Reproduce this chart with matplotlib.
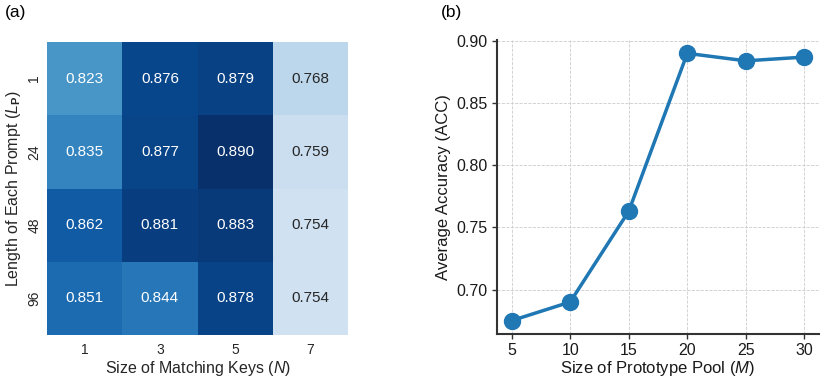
import matplotlib
matplotlib.use("Agg")
import matplotlib.pyplot as plt
import numpy as np

plt.rcParams['font.family'] = ['Liberation Sans', 'DejaVu Sans']
plt.rcParams['mathtext.fontset'] = 'custom'
plt.rcParams['mathtext.rm'] = 'Liberation Sans'
plt.rcParams['mathtext.it'] = 'Liberation Sans:italic'
plt.rcParams['mathtext.bf'] = 'Liberation Sans:bold'

# Heatmap data
key_sizes = ["1", "3", "5", "7"]
prompt_lengths = ["1", "24", "48", "96"]
acc_grid = [
    [0.823, 0.876, 0.879, 0.768],
    [0.835, 0.877, 0.890, 0.759],
    [0.862, 0.881, 0.883, 0.754],
    [0.851, 0.844, 0.878, 0.754],
]

# Line data
pool_sizes = [5, 10, 15, 20, 25, 30]
pool_acc = [0.675, 0.690, 0.763, 0.890, 0.884, 0.887]

fig = plt.figure(figsize=(8.3, 3.78), dpi=100)

# (a) heatmap
ax1 = fig.add_axes([47/830, 1-335/378, 301/830, 293/378])
data = np.array(acc_grid)
vmin, vmax = 0.72, 0.89
cmap = plt.get_cmap('Blues')
ax1.pcolormesh(data, cmap=cmap, vmin=vmin, vmax=vmax)
ax1.set_xlim(0, data.shape[1])
ax1.set_ylim(data.shape[0], 0)
for i in range(data.shape[0]):
    for j in range(data.shape[1]):
        v = data[i, j]
        t = (v - vmin) / (vmax - vmin)
        col = 'white' if t > 0.45 else '#262626'
        ax1.text(j + 0.5, i + 0.5, f"{v:.3f}", ha='center', va='center',
                 fontsize=11, color=col)
ax1.set_xticks(np.arange(len(key_sizes)) + 0.5)
ax1.set_xticklabels(key_sizes, fontsize=10, color='#262626')
ax1.set_yticks(np.arange(len(prompt_lengths)) + 0.5)
ax1.set_yticklabels(prompt_lengths, fontsize=10, rotation=90, va='center', color='#262626')
ax1.tick_params(axis='x', length=0, pad=6)
ax1.tick_params(axis='y', length=0, pad=4)
for s in ax1.spines.values():
    s.set_visible(False)
ax1.set_xlabel(r"Size of Matching Keys ($\mathit{N}$)", fontsize=11.5, color='#262626', labelpad=1)
ax1.set_ylabel(r"Length of Each Prompt ($\mathit{L}_{\mathbf{P}}$)", fontsize=11.5, color='#262626', labelpad=3)
fig.text(5/830, 1-13/378, "(a)", fontsize=12.5, va='center', ha='left')

# (b) line plot
ax2 = fig.add_axes([497/830, 1-334/378, 322/830, 294/378])
ax2.plot(pool_sizes, pool_acc, '-o', color='#1f77b4', linewidth=2.5, markersize=11.5)
ax2.set_xticks(pool_sizes)
ax2.set_yticks([0.70, 0.75, 0.80, 0.85, 0.90])
ax2.set_yticklabels([f"{v:.2f}" for v in [0.70, 0.75, 0.80, 0.85, 0.90]])
ax2.tick_params(labelsize=11.5, length=3.5, width=1, color='#333333', labelcolor='#1a1a1a', pad=3)
ax2.grid(True, linestyle='--', linewidth=0.6, color='#cccccc')
ax2.set_axisbelow(True)
ax2.spines['top'].set_visible(False)
ax2.spines['right'].set_visible(False)
for s in ['left', 'bottom']:
    ax2.spines[s].set_linewidth(1.5)
    ax2.spines[s].set_color('#333333')
ax2.set_xlabel(r"Size of Prototype Pool ($\mathit{M}$)", fontsize=12, color='#1a1a1a', labelpad=1)
ax2.set_ylabel("Average Accuracy (ACC)", fontsize=12, color='#1a1a1a', labelpad=4)
fig.text(441/830, 1-13/378, "(b)", fontsize=12.5, va='center', ha='left')

fig.savefig("out.png", dpi=100)
